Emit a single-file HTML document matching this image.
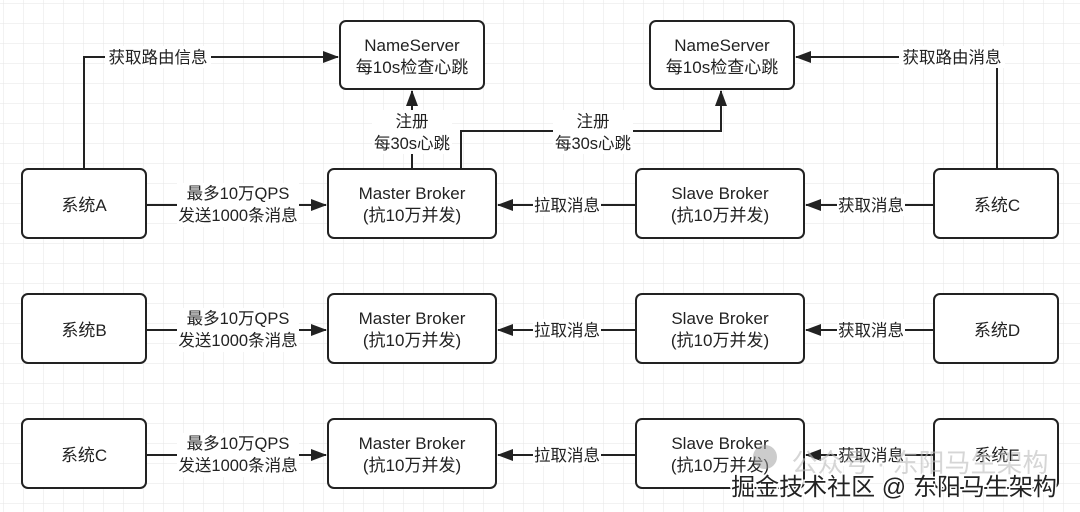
<!DOCTYPE html>
<html><head><meta charset="utf-8">
<style>
html,body{margin:0;padding:0;background:#fff;}
svg{display:block;}
text{font-family:"Liberation Sans","Noto Sans CJK SC",sans-serif;font-size:16.5px;fill:#222;text-anchor:middle;}
.b{font-size:17px;}
</style></head><body>
<svg width="1080" height="512" viewBox="0 0 1080 512" xmlns="http://www.w3.org/2000/svg">
<defs>
<pattern id="g" width="20" height="20" patternUnits="userSpaceOnUse" x="4" y="4">
<path d="M20 0V20M0 20H20" stroke="#e6e6e6" stroke-width="1" fill="none"/>
</pattern>
<marker id="b" markerWidth="16" markerHeight="12" refX="15" refY="6" orient="auto" markerUnits="userSpaceOnUse">
<path d="M0,0 L16,6 L0,12 z" fill="#222"/>
</marker>
</defs>
<rect width="1080" height="512" fill="url(#g)"/>
<g fill="#fff" stroke="#222" stroke-width="2">
<rect x="340" y="21" width="144" height="68" rx="6"/>
<rect x="650" y="21" width="144" height="68" rx="6"/>
<rect x="22" y="169" width="124" height="69" rx="6"/>
<rect x="328" y="169" width="168" height="69" rx="6"/>
<rect x="636" y="169" width="168" height="69" rx="6"/>
<rect x="934" y="169" width="124" height="69" rx="6"/>
<rect x="22" y="294" width="124" height="69" rx="6"/>
<rect x="328" y="294" width="168" height="69" rx="6"/>
<rect x="636" y="294" width="168" height="69" rx="6"/>
<rect x="934" y="294" width="124" height="69" rx="6"/>
<rect x="22" y="419" width="124" height="69" rx="6"/>
<rect x="328" y="419" width="168" height="69" rx="6"/>
<rect x="636" y="419" width="168" height="69" rx="6"/>
<rect x="934" y="419" width="124" height="69" rx="6"/>
</g>
<g stroke="#222" stroke-width="2" fill="none">
<path d="M84 169V57H338" marker-end="url(#b)"/>
<path d="M997 169V57H796" marker-end="url(#b)"/>
<path d="M412 169V91" marker-end="url(#b)"/>
<path d="M461 169V131H721V91" marker-end="url(#b)"/>
<path d="M146 205H326" marker-end="url(#b)"/><path d="M636 205H498" marker-end="url(#b)"/><path d="M934 205H806" marker-end="url(#b)"/>
<path d="M146 330H326" marker-end="url(#b)"/><path d="M636 330H498" marker-end="url(#b)"/><path d="M934 330H806" marker-end="url(#b)"/>
<path d="M146 455H326" marker-end="url(#b)"/><path d="M636 455H498" marker-end="url(#b)"/><path d="M934 455H806" marker-end="url(#b)"/>
</g>
<g fill="#fff">
<rect x="105" y="46" width="106" height="22"/>
<rect x="899" y="46" width="106" height="22"/>
<rect x="372" y="110" width="80" height="44"/>
<rect x="553" y="110" width="80" height="44"/>
<rect x="177" y="183" width="122" height="44"/><rect x="177" y="308" width="122" height="44"/><rect x="177" y="433" width="122" height="44"/>
<rect x="533" y="194" width="68" height="22"/><rect x="533" y="319" width="68" height="22"/><rect x="533" y="444" width="68" height="22"/>
<rect x="837" y="194" width="68" height="22"/><rect x="837" y="319" width="68" height="22"/><rect x="837" y="444" width="68" height="22"/>
</g>
<text class="b" x="412" y="51">NameServer</text><text class="b" x="412" y="73">每10s检查心跳</text>
<text class="b" x="722" y="51">NameServer</text><text class="b" x="722" y="73">每10s检查心跳</text>
<text x="158" y="63">获取路由信息</text>
<text x="952" y="63">获取路由消息</text>
<text x="412" y="127">注册</text><text x="412" y="149">每30s心跳</text>
<text x="593" y="127">注册</text><text x="593" y="149">每30s心跳</text>
<g>
<text class="b" x="84" y="211">系统A</text><text class="b" x="84" y="336">系统B</text><text class="b" x="84" y="461">系统C</text>
<text class="b" x="997" y="211">系统C</text><text class="b" x="997" y="336">系统D</text><text class="b" x="997" y="461">系统E</text>
<text x="238" y="199">最多10万QPS</text><text x="238" y="221">发送1000条消息</text>
<text x="238" y="324">最多10万QPS</text><text x="238" y="346">发送1000条消息</text>
<text x="238" y="449">最多10万QPS</text><text x="238" y="471">发送1000条消息</text>
<text class="b" x="412" y="199">Master Broker</text><text class="b" x="412" y="221">(抗10万并发)</text>
<text class="b" x="412" y="324">Master Broker</text><text class="b" x="412" y="346">(抗10万并发)</text>
<text class="b" x="412" y="449">Master Broker</text><text class="b" x="412" y="471">(抗10万并发)</text>
<text class="b" x="720" y="199">Slave Broker</text><text class="b" x="720" y="221">(抗10万并发)</text>
<text class="b" x="720" y="324">Slave Broker</text><text class="b" x="720" y="346">(抗10万并发)</text>
<text class="b" x="720" y="449">Slave Broker</text><text class="b" x="720" y="471">(抗10万并发)</text>
<text x="567" y="211">拉取消息</text><text x="567" y="336">拉取消息</text><text x="567" y="461">拉取消息</text>
<text x="871" y="211">获取消息</text><text x="871" y="336">获取消息</text><text x="871" y="461">获取消息</text>
</g>
<circle cx="765" cy="457" r="12" fill="#999" opacity="0.5"/>
<text x="920" y="472" style="font-size:26px;fill:#bbb;opacity:0.6">公众号 · 东阳马生架构</text>
<text x="894" y="495" style="font-size:24px;fill:#222;stroke:#fff;stroke-width:3;paint-order:stroke">掘金技术社区 @ 东阳马生架构</text>
</svg>
</body></html>
